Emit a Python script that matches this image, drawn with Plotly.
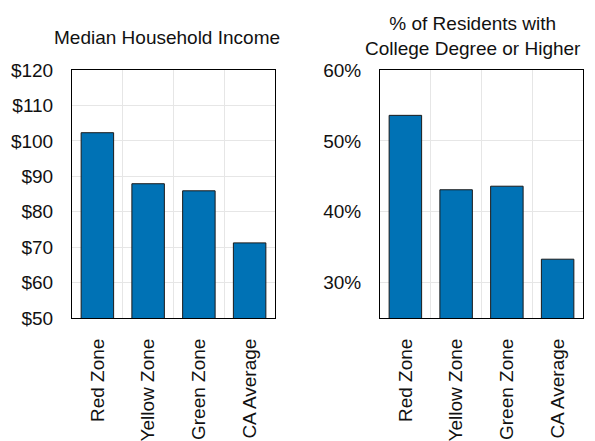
import plotly.graph_objects as go
from plotly.subplots import make_subplots

categories = ["Red Zone", "Yellow Zone", "Green Zone", "CA Average"]
income_k = [102.3, 87.9, 85.9, 71.2]
college_pct = [53.6, 43.1, 43.6, 33.3]
income_ticks = [50, 60, 70, 80, 90, 100, 110, 120]
college_ticks = [30, 40, 50, 60]
title_left = "Median Household Income"
title_right = "% of Residents with<br>College Degree or Higher"

OFF = 8  # page body margin offset
W, H = 595 - OFF, 441 - OFF
ML, MR, MT, MB = 72 - OFF, 12, 70 - OFF, 123
pw = W - ML - MR
ph = H - MT - MB

def px_x(x):
    return (x - OFF - ML) / pw

def px_y(y):
    return 1 + (MT - (y - OFF)) / ph

fig = make_subplots(rows=1, cols=2, horizontal_spacing=0.0)

bar_color = "#0072B5"
font_family = "Liberation Sans, Arial, Helvetica, sans-serif"

fig.add_trace(go.Bar(x=categories, y=income_k, marker=dict(color=bar_color, line=dict(color="#1a1a1a", width=1)),
                     showlegend=False), row=1, col=1)
fig.add_trace(go.Bar(x=categories, y=college_pct, marker=dict(color=bar_color, line=dict(color="#1a1a1a", width=1)),
                     showlegend=False), row=1, col=2)

axis_common = dict(showline=True, linecolor="black", linewidth=1, mirror=True,
                   gridcolor="#e6e6e6", gridwidth=1, zeroline=False, automargin=False,
                   tickfont=dict(size=19, color="#111", family=font_family))

fig.update_xaxes(**axis_common, type="category", tickson="boundaries", ticks="",
                 tickangle=-90, showgrid=True, ticklabelstandoff=12)
fig.update_yaxes(**axis_common, ticks="", ticklabelstandoff=14)

fig.update_xaxes(domain=[0, 203 / pw], row=1, col=1)
fig.update_xaxes(domain=[px_x(380), 1], row=1, col=2)

fig.update_yaxes(range=[50, 120], tickvals=income_ticks,
                 ticktext=["$" + str(v) for v in income_ticks], row=1, col=1)
fig.update_yaxes(range=[25, 60], tickvals=college_ticks,
                 ticktext=[str(v) + "%" for v in college_ticks], row=1, col=2)

fig.update_layout(
    width=W, height=H,
    margin=dict(l=ML, r=MR, t=MT, b=MB),
    paper_bgcolor="white", plot_bgcolor="white",
    bargap=0.36,
    font=dict(family=font_family, size=19, color="#111"),
    annotations=[
        dict(text=title_left, x=px_x(167), y=px_y(37), xref="paper", yref="paper",
             xanchor="center", yanchor="middle", showarrow=False,
             font=dict(size=19, family=font_family, color="#111")),
        dict(text=title_right, x=px_x(473), y=px_y(36), xref="paper", yref="paper",
             xanchor="center", yanchor="middle", showarrow=False,
             font=dict(size=19, family=font_family, color="#111")),
    ],
)

fig.write_html("out.html")
